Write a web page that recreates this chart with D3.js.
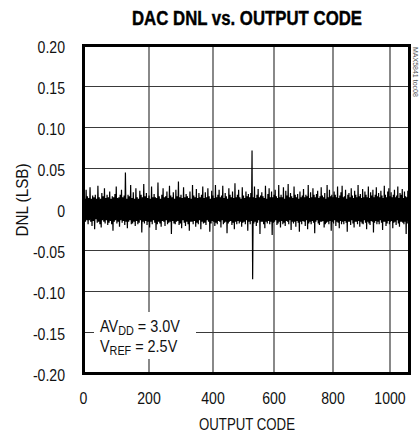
<!DOCTYPE html>
<html>
<head>
<meta charset="utf-8">
<script src="https://cdn.jsdelivr.net/npm/d3@7"></script>
<style>
 body { margin: 0; background: #fff; }
 text { font-family: "Liberation Sans", Arial, sans-serif; fill: #111; }
</style>
</head>
<body>
<div id="chart"></div>
<script>
// x tick labels and y tick labels
var xTicks = [0, 200, 400, 600, 800, 1000];
var yTicks = [0.20, 0.15, 0.10, 0.05, 0, -0.05, -0.10, -0.15, -0.20];

// one reading every 2 codes, in thousandths of an LSB
var codeStep = 2;
var dnl = [
 15,-17,13,-15,24,-13,16,-18,14,-13,27,-15,13,-20,17,-14,15,-24,18,-12,
 13,-16,29,-15,15,-18,13,-22,20,-13,16,-15,26,-17,14,-13,18,-19,15,-16,
 22,-14,13,-18,16,-26,15,-15,19,-13,28,-17,14,-15,15,-21,18,-13,24,-16,
 15,-14,17,-19,45,-15,13,-23,18,-15,16,-13,30,-18,14,-17,21,-15,13,-20,
 26,-14,15,-18,13,-16,23,-13,18,-28,15,-15,31,-17,16,-14,20,-19,14,-15,
 17,-22,13,-15,28,-18,15,-13,19,-16,15,-25,14,-18,33,-15,16,-17,13,-21,
 18,-14,26,-15,15,-20,16,-13,22,-18,14,-16,29,-15,17,-30,15,-14,21,-17,
 13,-18,24,-15,16,-14,34,-19,15,-17,18,-23,14,-13,27,-16,15,-20,19,-15,
 16,-18,14,-26,22,-15,13,-15,30,-18,17,-14,15,-21,25,-16,14,-18,20,-13,
 15,-24,18,-15,28,-17,14,-16,21,-19,15,-13,26,-15,16,-27,13,-17,23,-14,
 17,-15,14,-20,30,-16,15,-18,18,-14,24,-15,15,-22,17,-13,29,-18,14,-16,
 20,-15,16,-29,13,-17,26,-15,18,-14,15,-19,22,-16,14,-24,32,-15,15,-18,
 18,-14,24,-17,15,-15,13,-21,27,-16,17,-15,14,-18,22,-13,16,-26,19,-15,
 15,-18,20,-14,72,-85,15,-17,28,-15,14,-20,18,-16,25,-13,15,-30,17,-15,
 21,-15,16,-18,14,-23,29,-15,13,-17,19,-14,26,-18,15,-15,22,-31,15,-16,
 18,-15,24,-13,16,-19,14,-17,30,-15,15,-22,18,-14,15,-18,27,-16,13,-20,
 23,-14,17,-15,31,-18,15,-13,20,-25,16,-15,14,-17,28,-15,18,-21,15,-14,
 19,-16,13,-27,22,-15,15,-18,17,-14,25,-15,15,-20,18,-13,16,-24,30,-17,
 14,-15,21,-18,15,-14,26,-16,18,-29,15,-15,19,-13,23,-17,14,-19,16,-15,
 27,-15,17,-14,15,-22,20,-18,13,-16,30,-15,15,-18,24,-14,16,-26,18,-15,
 15,-17,22,-13,18,-20,15,-15,28,-16,14,-23,17,-14,21,-18,29,-15,15,-18,
 16,-14,24,-16,13,-27,18,-15,20,-15,15,-19,26,-13,17,-17,14,-22,23,-15,
 18,-15,15,-18,30,-14,16,-21,19,-15,14,-17,25,-18,15,-13,22,-16,18,-24,
 15,-15,28,-17,14,-19,21,-14,17,-15,24,-28,15,-16,18,-14,27,-18,16,-15,
 20,-18,15,-13,23,-16,17,-25,14,-15,29,-15,18,-20,15,-17,22,-14,26,-18,
 16,-15,21,-14,15,-23,18,-16,24,-15,15,-19,17,-13,28,-17,14,-21,20,-15,
 18,-15,25,-16,14,-18,22,-15,16,-30,15,-17,23,-14,18,-15
];

var width = 419,
 height = 435;

var svg = d3.select("#chart")
 .append("svg")
 .attr("width", width)
 .attr("height", height);

// squeeze text a bit, the original uses a condensed face
function narrow(sel, k) {
 sel.each(function() {
  d3.select(this)
   .attr("textLength", this.getComputedTextLength() * k)
   .attr("lengthAdjust", "spacingAndGlyphs");
 });
}

// the printed axis is slightly compressed toward the right, so piecewise
var x = d3.scaleLinear()
 .domain([0, 200, 400, 600, 800, 1000, 1070])
 .range([83.5, 149, 213, 274, 333, 390, 409.5]);

var y = d3.scaleLinear()
 .domain([-0.2, 0.2])
 .range([373.5, 45.5]);

svg.append("clipPath")
 .attr("id", "plot")
 .append("rect")
 .attr("x", x(0))
 .attr("y", y(0.2))
 .attr("width", x(1070) - x(0))
 .attr("height", y(-0.2) - y(0.2));

// grid
svg.append("g")
 .attr("class", "grid")
 .selectAll("line.v")
 .data(xTicks.slice(1))
 .enter().append("line")
 .attr("x1", function(d) { return x(d); })
 .attr("x2", function(d) { return x(d); })
 .attr("y1", y(0.2))
 .attr("y2", y(-0.2))
 .style("stroke", "#3a3a3a")
 .style("stroke-width", 1.2);

svg.select(".grid")
 .selectAll("line.h")
 .data(yTicks.slice(1, -1))
 .enter().append("line")
 .attr("x1", x(0))
 .attr("x2", x(1070))
 .attr("y1", function(d) { return y(d); })
 .attr("y2", function(d) { return y(d); })
 .style("stroke", "#3a3a3a")
 .style("stroke-width", 1.2);

// data
var line = d3.line()
 .x(function(d, i) { return x(i * codeStep); })
 .y(function(d) { return y(d / 1000); });

svg.append("path")
 .datum(dnl)
 .attr("clip-path", "url(#plot)")
 .attr("d", line)
 .style("fill", "none")
 .style("stroke", "#000")
 .style("stroke-width", 1.2);

// note box
var note = svg.append("g");
note.append("rect")
 .attr("x", 94)
 .attr("y", 312)
 .attr("width", 102)
 .attr("height", 47)
 .style("fill", "#fff");

var t1 = note.append("text")
 .attr("x", 100)
 .attr("y", 332)
 .style("font-size", "16px");
t1.append("tspan").text("AV");
t1.append("tspan").attr("dy", 3).style("font-size", "12px").text("DD");
t1.append("tspan").attr("dy", -3).text(" = 3.0V");

var t2 = note.append("text")
 .attr("x", 100)
 .attr("y", 352)
 .style("font-size", "16px");
t2.append("tspan").text("V");
t2.append("tspan").attr("dy", 3).style("font-size", "12px").text("REF");
t2.append("tspan").attr("dy", -3).text(" = 2.5V");

// frame
svg.append("rect")
 .attr("x", x(0))
 .attr("y", y(0.2))
 .attr("width", x(1070) - x(0))
 .attr("height", y(-0.2) - y(0.2))
 .style("fill", "none")
 .style("stroke", "#000")
 .style("stroke-width", 3);

// tick labels
svg.selectAll("text.ylab")
 .data(yTicks)
 .enter().append("text")
 .attr("class", "ylab")
 .attr("x", 65)
 .attr("y", function(d) { return y(d) + 7.5; })
 .attr("text-anchor", "end")
 .style("font-size", "16px")
 .text(function(d) { return d === 0 ? "0" : d3.format(".2f")(d).replace("−", "-"); });

svg.selectAll("text.xlab")
 .data(xTicks)
 .enter().append("text")
 .attr("class", "xlab")
 .attr("x", function(d) { return x(d); })
 .attr("y", 403.5)
 .attr("text-anchor", "middle")
 .style("font-size", "16px")
 .text(function(d) { return d; });

// titles
svg.append("text")
 .attr("x", 247)
 .attr("y", 25)
 .attr("text-anchor", "middle")
 .attr("textLength", 230)
 .attr("lengthAdjust", "spacingAndGlyphs")
 .style("font-size", "19.5px")
 .style("font-weight", "bold")
 .style("fill", "#000")
 .style("stroke", "#000")
 .style("stroke-width", 0.4)
 .text("DAC DNL vs. OUTPUT CODE");

svg.append("text")
 .attr("x", 247)
 .attr("y", 429.5)
 .attr("text-anchor", "middle")
 .attr("textLength", 96)
 .attr("lengthAdjust", "spacingAndGlyphs")
 .style("font-size", "16.5px")
 .text("OUTPUT CODE");

svg.append("text")
 .attr("transform", "translate(27.5,200) rotate(-90)")
 .attr("text-anchor", "middle")
 .attr("textLength", 73)
 .attr("lengthAdjust", "spacingAndGlyphs")
 .style("font-size", "16px")
 .text("DNL (LSB)");

svg.append("text")
 .attr("transform", "translate(413,47) rotate(90)")
 .style("font-size", "7px")
 .style("fill", "#555")
 .text("MAX5841 toc08");

narrow(svg.selectAll("text.ylab, text.xlab"), 0.88);
narrow(note.selectAll("text"), 0.9);
</script>
</body>
</html>
